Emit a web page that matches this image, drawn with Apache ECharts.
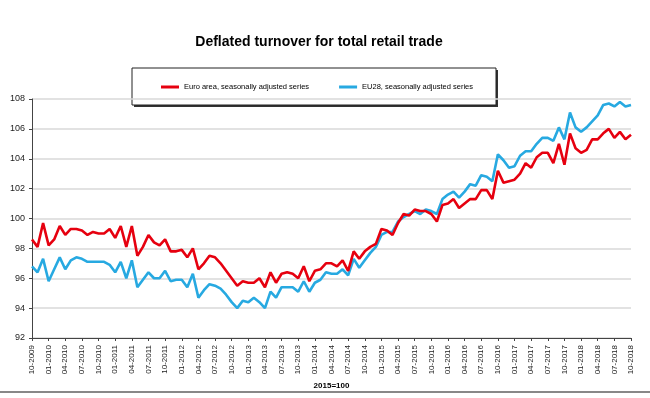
<!DOCTYPE html>
<html>
<head>
<meta charset="utf-8">
<title>Deflated turnover for total retail trade</title>
<script src="https://cdn.jsdelivr.net/npm/echarts@6/dist/echarts.min.js"></script>
<style>
  html, body { margin: 0; padding: 0; background: #fff; }
  #chart { width: 650px; height: 398px; }
</style>
</head>
<body>
<div id="chart"></div>
<script>
// monthly index, 2015=100, from 10-2009 to 10-2018
const months = [];
for (let y = 2009; y <= 2018; y++) {
  for (let m = 1; m <= 12; m++) {
    if ((y === 2009 && m < 10) || (y === 2018 && m > 10)) continue;
    months.push((m < 10 ? '0' + m : '' + m) + '-' + y);
  }
}

const euroArea = [
  98.6, 98.1, 99.7, 98.2, 98.6, 99.5, 98.9, 99.3, 99.3, 99.2,
  98.9, 99.1, 99.0, 99.0, 99.3, 98.7, 99.5, 98.1, 99.5, 97.5,
  98.1, 98.9, 98.4, 98.2, 98.6, 97.8, 97.8, 97.9, 97.4, 98.0,
  96.6, 97.0, 97.5, 97.4, 97.0, 96.5, 96.0, 95.5, 95.8, 95.7,
  95.7, 96.0, 95.4, 96.4, 95.7, 96.3, 96.4, 96.3, 96.0, 96.8,
  95.8, 96.5, 96.6, 97.0, 97.0, 96.8, 97.2, 96.5, 97.8, 97.3,
  97.8, 98.1, 98.3, 99.3, 99.2, 98.9, 99.7, 100.3, 100.2, 100.6,
  100.5, 100.5, 100.3, 99.8, 100.9, 101.0, 101.3, 100.7, 101.0, 101.3,
  101.3, 101.9, 101.9, 101.3, 103.2, 102.4, 102.5, 102.6, 103.0, 103.7,
  103.4, 104.1, 104.4, 104.4, 103.7, 105.0, 103.6, 105.7, 104.7, 104.4,
  104.6, 105.3, 105.3, 105.7, 106.0, 105.4, 105.8, 105.3, 105.6
];

const eu28 = [
  96.8, 96.4, 97.3, 95.8, 96.6, 97.4, 96.6, 97.2, 97.4, 97.3,
  97.1, 97.1, 97.1, 97.1, 96.9, 96.4, 97.1, 96.0, 97.2, 95.4,
  95.9, 96.4, 96.0, 96.0, 96.5, 95.8, 95.9, 95.9, 95.4, 96.3,
  94.7, 95.2, 95.6, 95.5, 95.3, 94.9, 94.4, 94.0, 94.5, 94.4,
  94.7, 94.4, 94.0, 95.1, 94.7, 95.4, 95.4, 95.4, 95.1, 95.8,
  95.1, 95.7, 95.9, 96.4, 96.3, 96.3, 96.6, 96.2, 97.3, 96.7,
  97.2, 97.7, 98.1, 98.9, 99.1, 99.1, 99.8, 100.1, 100.3, 100.5,
  100.3, 100.6, 100.5, 100.3, 101.3, 101.6, 101.8, 101.4, 101.8, 102.3,
  102.2, 102.9, 102.8, 102.5, 104.3, 103.9, 103.4, 103.5, 104.2, 104.5,
  104.5, 105.0, 105.4, 105.4, 105.2, 106.1, 105.3, 107.1, 106.1, 105.8,
  106.1, 106.5, 106.9, 107.6, 107.7, 107.5, 107.8, 107.5, 107.6
];

const seriesNames = ['Euro area, seasonally adjusted series', 'EU28, seasonally adjusted series'];

const font = 'Liberation Sans, Arial, sans-serif';

let myChart = echarts.init(document.getElementById('chart'));
let option = {
  animation: false,
  color: ['#e6000f', '#27a9e1'],
  textStyle: { fontFamily: font },
  title: {
    text: 'Deflated turnover for total retail trade',
    left: 319,
    top: 35,
    padding: 0,
    textAlign: 'center',
    textStyle: { fontSize: 14, fontWeight: 'bold', color: '#000', fontFamily: font }
  },
  // legend frame with drop shadow, bottom rule
  graphic: [
    {
      type: 'rect',
      shape: { x: 134, y: 70, width: 364, height: 37 },
      style: { fill: '#333' },
      silent: true
    },
    {
      type: 'rect',
      shape: { x: 132, y: 68, width: 364, height: 37 },
      style: { fill: '#fff', stroke: '#222', lineWidth: 1 },
      silent: true
    },
    {
      type: 'rect',
      shape: { x: 0, y: 391, width: 650, height: 2 },
      style: { fill: '#888' },
      silent: true
    }
  ],
  legend: {
    data: seriesNames,
    left: 161,
    top: 83,
    padding: 0,
    itemGap: 30,
    itemWidth: 18,
    itemHeight: 3,
    icon: 'rect',
    textStyle: { fontSize: 7.5, color: '#000', fontFamily: font }
  },
  grid: {
    left: 32,
    right: 19,
    top: 99,
    bottom: 60
  },
  xAxis: {
    type: 'category',
    data: months,
    boundaryGap: false,
    name: '2015=100',
    nameLocation: 'middle',
    nameGap: 44,
    nameTextStyle: { fontSize: 8, fontWeight: 'bold', color: '#000' },
    axisLine: { lineStyle: { color: '#444', width: 1 } },
    axisTick: { interval: 2, length: 3, lineStyle: { color: '#444' } },
    axisLabel: {
      interval: 2,
      rotate: 90,
      fontSize: 8,
      color: '#222',
      margin: 7
    },
    splitLine: { show: false }
  },
  yAxis: {
    type: 'value',
    min: 92,
    max: 108,
    interval: 2,
    axisLine: { show: true, lineStyle: { color: '#444', width: 1 } },
    axisTick: { show: true, length: 3, lineStyle: { color: '#444' } },
    axisLabel: { fontSize: 9, color: '#222', margin: 7 },
    splitLine: { lineStyle: { color: '#d9d9d9', width: 1.5 } }
  },
  series: [
    {
      name: seriesNames[0],
      type: 'line',
      data: euroArea,
      showSymbol: false,
      symbol: 'none',
      lineStyle: { width: 2.6, color: '#e6000f' },
      z: 3
    },
    {
      name: seriesNames[1],
      type: 'line',
      data: eu28,
      showSymbol: false,
      symbol: 'none',
      lineStyle: { width: 2.6, color: '#27a9e1' },
      z: 2
    }
  ]
};
myChart.setOption(option, (window.onresize = myChart.resize));
</script>
</body>
</html>
